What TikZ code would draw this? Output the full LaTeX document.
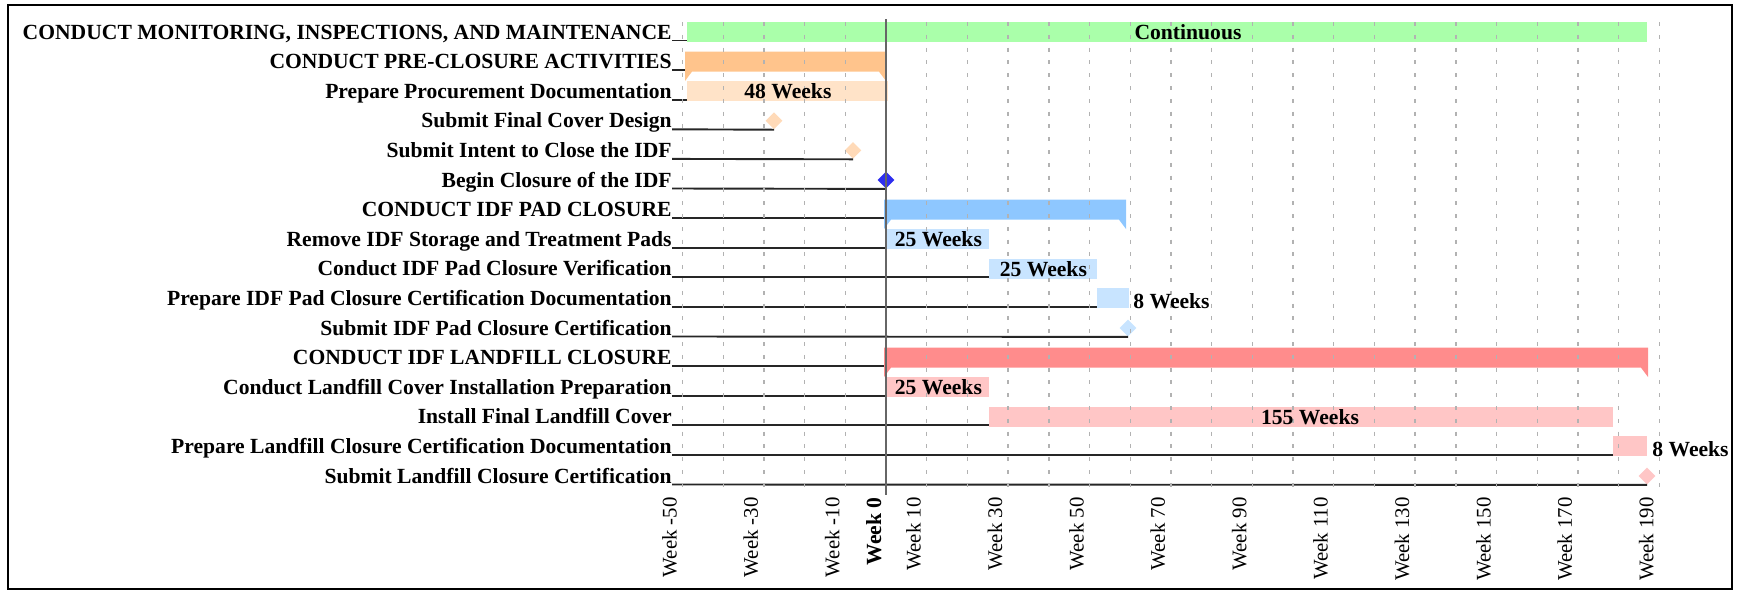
\documentclass[tikz,border=0pt]{standalone}
\usepackage{fontspec}
\setmainfont{Liberation Serif}
\usetikzlibrary{shapes.geometric}

\definecolor{contgreen}{HTML}{AAFFAA}
\definecolor{preorange}{HTML}{FFC48C}
\definecolor{prelight}{HTML}{FFE3C8}
\definecolor{premark}{HTML}{FFDAB8}
\definecolor{startblue}{HTML}{2E2EEE}
\definecolor{padblue}{HTML}{8EC7FF}
\definecolor{padlight}{HTML}{C8E4FF}
\definecolor{fillred}{HTML}{FF8C8C}
\definecolor{filllight}{HTML}{FFC6C6}
\definecolor{gridgray}{HTML}{B2B2B2}

\tikzset{
  task/.style={font=\bfseries\fontsize{10.8}{13}\selectfont, anchor=base east, inner sep=0pt},
  dur/.style={font=\bfseries\fontsize{10.8}{13}\selectfont, inner sep=0pt},
  leader/.style={line width=0.95pt, black!85},
  bar/.style={anchor=west, inner sep=0pt, minimum height=10pt},
  milestone/.style={diamond, inner sep=0pt, minimum width=8.5pt, minimum height=8.5pt},
  weekline/.style={gridgray, line width=0.7pt, dash pattern=on 2pt off 4.4pt},
  zeroline/.style={black!60, line width=0.75pt},
  weeklabel/.style={rotate=90, anchor=base east, inner sep=0pt, font=\fontsize{10.4}{12}\selectfont}
}

\begin{document}
\begin{tikzpicture}[x=0.5pt,y=-0.5pt]
\useasboundingbox (0,0) rectangle (1737,591);
\draw[line width=1pt] (8,5) rectangle (1732,589);
% task names
\node[task] (l1) at (672,39) {CONDUCT MONITORING, INSPECTIONS, AND MAINTENANCE};
\node[task] (l2) at (672,68.6) {CONDUCT PRE-CLOSURE ACTIVITIES};
\node[task] (l3) at (672,98.2) {Prepare Procurement Documentation};
\node[task] (l4) at (672,127.8) {Submit Final Cover Design};
\node[task] (l5) at (672,157.4) {Submit Intent to Close the IDF};
\node[task] (l6) at (672,187) {Begin Closure of the IDF};
\node[task] (l7) at (672,216.6) {CONDUCT IDF PAD CLOSURE};
\node[task] (l8) at (672,246.2) {Remove IDF Storage and Treatment Pads};
\node[task] (l9) at (672,275.8) {Conduct IDF Pad Closure Verification};
\node[task] (l10) at (672,305.4) {Prepare IDF Pad Closure Certification Documentation};
\node[task] (l11) at (672,335) {Submit IDF Pad Closure Certification};
\node[task] (l12) at (672,364.6) {CONDUCT IDF LANDFILL CLOSURE};
\node[task] (l13) at (672,394.2) {Conduct Landfill Cover Installation Preparation};
\node[task] (l14) at (672,423.8) {Install Final Landfill Cover};
\node[task] (l15) at (672,453.4) {Prepare Landfill Closure Certification Documentation};
\node[task] (l16) at (672,483) {Submit Landfill Closure Certification};
% bars and milestones
\node[bar, fill=contgreen, minimum width=480pt] (b1) at (687,32) {};
\fill[preorange] (685,51.6) -- (886,51.6) -- (886,81) -- (879,71.6) -- (692,71.6) -- (685,81) -- cycle;
\coordinate (s2) at (685,61.6);
\node[bar, fill=prelight, minimum width=100.5pt] (b3) at (687,91.2) {};
\node[milestone, fill=premark] (d4) at (774,120.8) {};
\node[milestone, fill=premark] (d5) at (853,150.4) {};
\node[milestone, fill=startblue] (d6) at (886,180) {};
\fill[padblue] (884,199.6) -- (1126,199.6) -- (1126,229) -- (1119,219.6) -- (891,219.6) -- (884,229) -- cycle;
\coordinate (s7) at (884,209.6);
\node[bar, fill=padlight, minimum width=51pt] (b8) at (887,239.2) {};
\node[bar, fill=padlight, minimum width=54pt] (b9) at (989,268.8) {};
\node[bar, fill=padlight, minimum width=16pt] (b10) at (1097,298.4) {};
\node[milestone, fill=padlight] (d11) at (1128,328) {};
\fill[fillred] (884,347.6) -- (1648,347.6) -- (1648,377) -- (1641,367.6) -- (891,367.6) -- (884,377) -- cycle;
\coordinate (s12) at (884,357.6);
\node[bar, fill=filllight, minimum width=51pt] (b13) at (887,387.2) {};
\node[bar, fill=filllight, minimum width=312pt] (b14) at (989,416.8) {};
\node[bar, fill=filllight, minimum width=17pt] (b15) at (1613,446.4) {};
\node[milestone, fill=filllight] (d16) at (1647,476) {};
% leaders
\draw[leader] (l1.base east) ++(0,1.5) coordinate (t1) -- (t1 -| b1.west);
\draw[leader] (l2.base east) ++(0,1.5) coordinate (t2) -- (t2 -| s2);
\draw[leader] (l3.base east) ++(0,1.5) coordinate (t3) -- (t3 -| b3.west);
\draw[leader] (l4.base east) ++(0,1.5) -- (d4.south);
\draw[leader] (l5.base east) ++(0,1.5) -- (d5.south);
\draw[leader] (l6.base east) ++(0,1.5) -- (d6.south);
\draw[leader] (l7.base east) ++(0,1.5) coordinate (t7) -- (t7 -| s7);
\draw[leader] (l8.base east) ++(0,1.5) coordinate (t8) -- (t8 -| b8.west);
\draw[leader] (l9.base east) ++(0,1.5) coordinate (t9) -- (t9 -| b9.west);
\draw[leader] (l10.base east) ++(0,1.5) coordinate (t10) -- (t10 -| b10.west);
\draw[leader] (l11.base east) ++(0,1.5) -- (d11.south);
\draw[leader] (l12.base east) ++(0,1.5) coordinate (t12) -- (t12 -| s12);
\draw[leader] (l13.base east) ++(0,1.5) coordinate (t13) -- (t13 -| b13.west);
\draw[leader] (l14.base east) ++(0,1.5) coordinate (t14) -- (t14 -| b14.west);
\draw[leader] (l15.base east) ++(0,1.5) coordinate (t15) -- (t15 -| b15.west);
\draw[leader] (l16.base east) ++(0,1.5) -- (d16.south);
% week grid
\foreach \w in {-50,-40,...,-10,10,20,...,190}
  \draw[weekline] ({886+4.07*(\w)},22) -- ({886+4.07*(\w)},495);
\draw[zeroline] (886,19) -- (886,495);
% durations
\node[dur] (n1) at (1188,32) {Continuous};
\node[dur] (n3) at (b3) {48 Weeks};
\node[dur] (n8) at (b8) {25 Weeks};
\node[dur] (n9) at (b9) {25 Weeks};
\node[dur, anchor=base west] (n10) at (1133,308.4) {8 Weeks};
\node[dur] (n13) at (b13) {25 Weeks};
\node[dur] (n14) at (1310,416.8) {155 Weeks};
\node[dur, anchor=base west] (n15) at (1652,456.4) {8 Weeks};
% week axis
\foreach \w in {-50,-30,-10,10,30,...,190}
  \node[weeklabel] (wk\w) at ({880+4.07*(\w)},497) {Week \w};
\node[weeklabel, font=\bfseries\fontsize{10.8}{12}\selectfont] (wk0) at (881,497) {Week 0};
\end{tikzpicture}
\end{document}
